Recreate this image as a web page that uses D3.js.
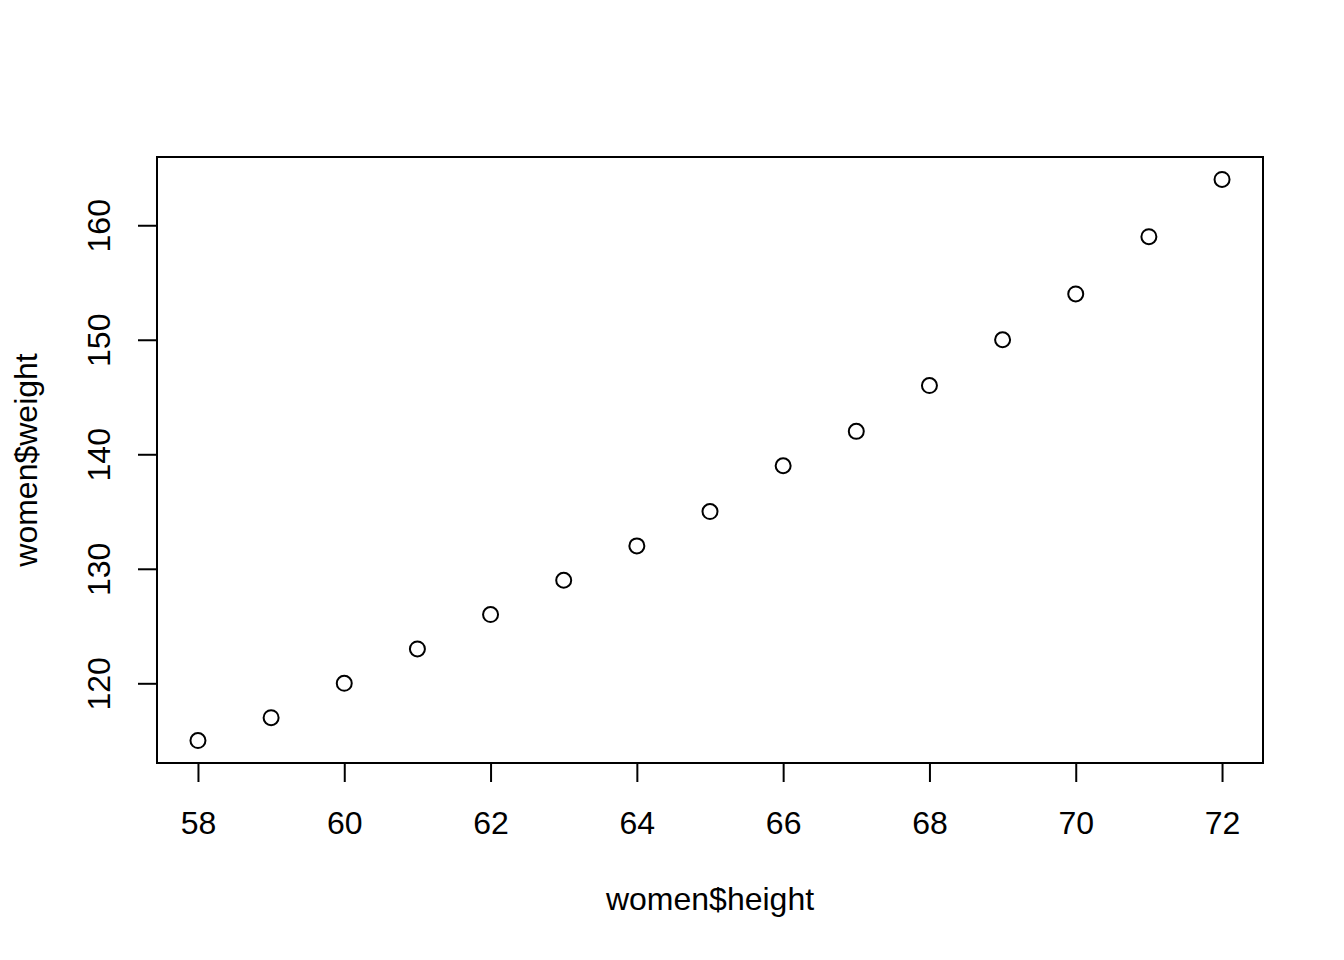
<!DOCTYPE html>
<html>
<head>
<meta charset="utf-8">
<script src="https://cdn.jsdelivr.net/npm/d3@7"></script>
<style>
  body { margin: 0; background: #fff; }
  svg text { font-family: "Liberation Sans", Arial, sans-serif; font-size: 32px; fill: #000; }
</style>
</head>
<body>
<svg id="viz" width="1344" height="960"></svg>
<script>
const heights = [58, 59, 60, 61, 62, 63, 64, 65, 66, 67, 68, 69, 70, 71, 72];
const weights = [115, 117, 120, 123, 126, 129, 132, 135, 139, 142, 146, 150, 154, 159, 164];
const xTicks = [58, 60, 62, 64, 66, 68, 70, 72];
const yTicks = [120, 130, 140, 150, 160];

const svg = d3.select("#viz");
const box = {left: 157, right: 1263, top: 157, bottom: 763};

// R-style 4% padding on each side
const pad = (ext) => {
    const r = ext[1] - ext[0];
    return [ext[0] - r * 0.04, ext[1] + r * 0.04];
};

const x = d3.scaleLinear()
    .domain(pad(d3.extent(heights)))
    .range([box.left, box.right]);
const y = d3.scaleLinear()
    .domain(pad(d3.extent(weights)))
    .range([box.bottom, box.top]);

svg.append("rect")
    .attr("x", box.left)
    .attr("y", box.top)
    .attr("width", box.right - box.left)
    .attr("height", box.bottom - box.top)
    .attr("fill", "none")
    .attr("stroke", "#000")
    .attr("stroke-width", 2);

const xAxis = svg.append("g")
    .attr("transform", `translate(0,${box.bottom})`)
    .call(d3.axisBottom(x).tickValues(xTicks).tickSize(19).tickPadding(0).tickSizeOuter(0));
xAxis.select(".domain")
    .attr("d", `M${x(xTicks[0])},0H${x(xTicks[xTicks.length - 1])}`);
xAxis.selectAll("text")
    .attr("dy", null)
    .attr("y", 71);

const yAxis = svg.append("g")
    .attr("transform", `translate(${box.left},0)`)
    .call(d3.axisLeft(y).tickValues(yTicks).tickSize(19).tickPadding(0).tickSizeOuter(0));
yAxis.select(".domain")
    .attr("d", `M0,${y(yTicks[0])}V${y(yTicks[yTicks.length - 1])}`);
yAxis.selectAll("text")
    .attr("x", null)
    .attr("dy", null)
    .attr("text-anchor", "middle")
    .attr("transform", "translate(-47,0) rotate(-90)");

svg.selectAll(".tick line, .domain")
    .attr("stroke", "#000")
    .attr("stroke-width", 2);
svg.selectAll(".tick text")
    .attr("font-family", null)
    .attr("font-size", null)
    .attr("fill", "#000");

svg.selectAll("circle.pt")
    .data(heights)
    .enter()
    .append("circle")
    .attr("class", "pt")
    .attr("cx", (d) => x(d))
    .attr("cy", (d, i) => y(weights[i]))
    .attr("r", 7.5)
    .attr("fill", "none")
    .attr("stroke", "#000")
    .attr("stroke-width", 2);

svg.append("text")
    .attr("x", (box.left + box.right) / 2)
    .attr("y", 910)
    .attr("text-anchor", "middle")
    .text("women$height");

svg.append("text")
    .attr("transform", `translate(37,${(box.top + box.bottom) / 2}) rotate(-90)`)
    .attr("text-anchor", "middle")
    .text("women$weight");
</script>
</body>
</html>
